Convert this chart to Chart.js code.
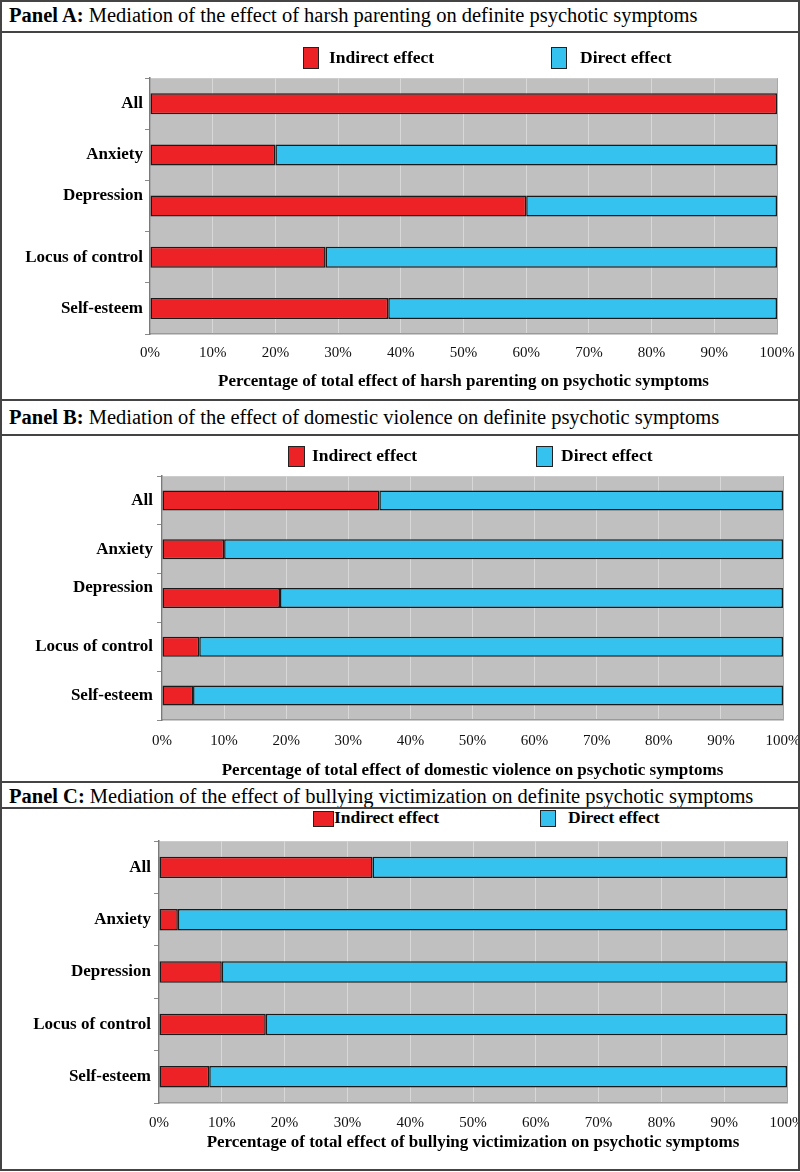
<!DOCTYPE html>
<html><head><meta charset="utf-8">
<script src="https://cdn.jsdelivr.net/npm/chart.js@4/dist/chart.umd.min.js"></script>
<style>
html,body{margin:0;padding:0;background:#fff;}
body{width:800px;height:1172px;position:relative;overflow:hidden;font-family:"Liberation Serif","Times New Roman",serif;color:#000;}
.frame{position:absolute;left:0;top:0;width:796px;height:1167px;border:2px solid #444;z-index:3;pointer-events:none;}
.hline{position:absolute;left:0;width:800px;height:0;border-top:2px solid #444;z-index:3;}
.ptitle{position:absolute;left:9px;font-size:20.5px;white-space:nowrap;line-height:1;z-index:2;}
.leg{position:absolute;font-weight:bold;font-size:17.5px;white-space:nowrap;line-height:1;z-index:2;}
.box{position:absolute;box-sizing:border-box;border:1.5px solid #222;z-index:2;}
canvas{position:absolute;left:0;z-index:1;}
</style></head>
<body>
<div class="frame"></div>
<div class="hline" style="top:31px"></div>
<div class="hline" style="top:399px"></div>
<div class="hline" style="top:434px"></div>
<div class="hline" style="top:781px"></div>
<div class="hline" style="top:807px"></div>

<div class="ptitle" id="tA" style="top:5px"></div>
<div class="ptitle" id="tB" style="top:407px"></div>
<div class="ptitle" id="tC" style="top:786px"></div>

<div id="legA"></div><div id="legB"></div><div id="legC"></div>

<canvas id="cA" width="830" height="330" style="top:66px"></canvas>
<canvas id="cB" width="830" height="323" style="top:462px"></canvas>
<canvas id="cC" width="830" height="329" style="top:828px"></canvas>

<script>
// ---- data ----
const categories = ['All', 'Anxiety', 'Depression', 'Locus of control', 'Self-esteem'];
const seriesNames = ['Indirect effect', 'Direct effect'];
const seriesColors = ['#ec2227', '#35c2ee'];
const xTickValues = [0, 10, 20, 30, 40, 50, 60, 70, 80, 90, 100];

const indirectA = [100, 20, 60, 28, 38];
const directA   = [0, 80, 40, 72, 62];
const indirectB = [35, 10, 19, 6, 5];
const directB   = [65, 90, 81, 94, 95];
const indirectC = [34, 3, 10, 17, 8];
const directC   = [66, 97, 90, 83, 92];

const panelLabels = ['Panel A:', 'Panel B:', 'Panel C:'];
const panelTitles = [
  ' Mediation of the effect of harsh parenting on definite psychotic symptoms',
  ' Mediation of the effect of domestic violence on definite psychotic symptoms',
  ' Mediation of the effect of bullying victimization on definite psychotic symptoms'
];
const axisTitles = [
  'Percentage of total effect of harsh parenting on psychotic symptoms',
  'Percentage of total effect of domestic violence on psychotic symptoms',
  'Percentage of total effect of bullying victimization on psychotic symptoms'
];

// ---- titles ----
['tA','tB','tC'].forEach((id, i) => {
  const el = document.getElementById(id);
  const b = document.createElement('b'); b.textContent = panelLabels[i];
  el.appendChild(b);
  el.appendChild(document.createTextNode(panelTitles[i]));
});

// ---- HTML legends ----
function legend(id, items) {
  const host = document.getElementById(id);
  items.forEach((it, i) => {
    const bx = document.createElement('div');
    bx.className = 'box';
    Object.assign(bx.style, {left: it.bx + 'px', top: it.by + 'px', width: it.bw + 'px', height: it.bh + 'px', background: seriesColors[i]});
    host.appendChild(bx);
    const t = document.createElement('div');
    t.className = 'leg';
    t.textContent = seriesNames[i];
    Object.assign(t.style, {left: it.tx + 'px', top: it.ty + 'px'});
    host.appendChild(t);
  });
}
legend('legA', [{bx:303,by:47,bw:16,bh:22,tx:329,ty:49},{bx:551,by:47,bw:16,bh:22,tx:580,ty:49}]);
legend('legB', [{bx:288,by:446,bw:17,bh:21,tx:312,ty:447},{bx:536,by:446,bw:17,bh:21,tx:561,ty:447}]);
legend('legC', [{bx:313,by:811,bw:21,bh:16,tx:334,ty:809},{bx:540,by:810,bw:16,bh:17,tx:568,ty:809}]);

// ---- charts ----
const plotBg = {
  id: 'plotBg',
  beforeDraw(chart) {
    const {ctx, chartArea: a} = chart;
    ctx.save();
    ctx.fillStyle = '#c0c0c0';
    ctx.fillRect(a.left, a.top, a.right - a.left, a.bottom - a.top);
    ctx.restore();
  },
  afterDraw(chart) {
    const {ctx, chartArea: a} = chart;
    ctx.save();
    ctx.strokeStyle = '#a8a8a8';
    ctx.lineWidth = 1;
    ctx.beginPath();
    ctx.moveTo(a.right + 0.5, a.top);
    ctx.lineTo(a.right + 0.5, a.bottom);
    ctx.stroke();
    ctx.restore();
  }
};

function makeChart(id, indirect, direct, axisTitle, g) {
  new Chart(document.getElementById(id), {
    type: 'bar',
    data: {
      labels: categories,
      datasets: [
        {label: seriesNames[0], data: indirect, backgroundColor: seriesColors[0]},
        {label: seriesNames[1], data: direct, backgroundColor: seriesColors[1]}
      ].map(d => Object.assign(d, {borderColor: '#1a1a1a', borderWidth: 1.5, borderSkipped: false,
                                    barPercentage: 0.41, categoryPercentage: 1}))
    },
    options: {
      indexAxis: 'y',
      responsive: false,
      animation: false,
      devicePixelRatio: 1,
      layout: {padding: {top: g.padTop, right: g.padRight, left: 0, bottom: 0}},
      plugins: {legend: {display: false}, tooltip: {enabled: false}, title: {display: false}},
      scales: {
        x: {
          stacked: true, min: 0, max: 100,
          afterBuildTicks(s) { s.ticks = xTickValues.map(v => ({value: v})); },
          afterFit(s) { s.height = g.xHeight; },
          ticks: {
            callback: v => v + '%',
            font: {family: '"Liberation Serif", serif', size: 15},
            color: '#111', padding: g.tickPad, maxRotation: 0, autoSkip: false
          },
          grid: {color: '#d8d8d8', lineWidth: 1, drawTicks: false},
          border: {color: '#9a9a9a', width: 1.5},
          title: {display: true, text: axisTitle, color: '#000',
                  font: {family: '"Liberation Serif", serif', size: 17, weight: 'bold'},
                  padding: {top: 4, bottom: 4}}
        },
        y: {
          stacked: true,
          afterFit(s) { s.width = g.yWidth; },
          ticks: {
            callback(v, i) {
              const l = this.getLabelForValue(v);
              return (g.lift && i === 2) ? [l, ''] : l;
            },
            font: {family: '"Liberation Serif", serif', size: 17, weight: 'bold'},
            color: '#000', padding: g.labelPad
          },
          grid: {offset: true, drawOnChartArea: false, drawTicks: true, tickLength: 5, color: '#8a8a8a'},
          border: {color: '#7a7a7a', width: 1.5}
        }
      }
    },
    plugins: [plotBg]
  });
}

makeChart('cA', indirectA, directA, axisTitles[0], {padTop: 10, padRight: 53, xHeight: 62, yWidth: 150, tickPad: 10, labelPad: 2, lift: true});
makeChart('cB', indirectB, directB, axisTitles[1], {padTop: 10, padRight: 47, xHeight: 65, yWidth: 162, tickPad: 12, labelPad: 4, lift: true});
makeChart('cC', indirectC, directC, axisTitles[2], {padTop: 10, padRight: 43, xHeight: 54, yWidth: 159, tickPad: 11, labelPad: 3, lift: false});
</script>
</body></html>
